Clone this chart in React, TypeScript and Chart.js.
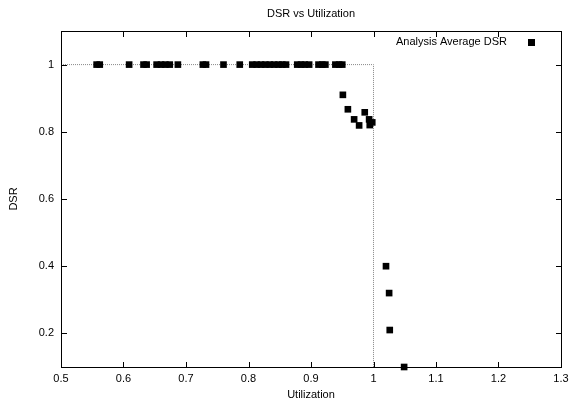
import React, { useEffect, useRef } from 'react';
import { Chart, registerables } from 'chart.js';

Chart.register(...registerables);

const chartTitle = 'DSR vs Utilization';
const xTitle = 'Utilization';
const yTitle = 'DSR';
const seriesName = 'Analysis Average DSR';

const xTicks = [0.5, 0.6, 0.7, 0.8, 0.9, 1.0, 1.1, 1.2, 1.3];
const xTickLabels = ['0.5', '0.6', '0.7', '0.8', '0.9', '1', '1.1', '1.2', '1.3'];
const yTicks = [0.2, 0.4, 0.6, 0.8, 1.0];
const yTickLabels = ['0.2', '0.4', '0.6', '0.8', '1'];

const utilization = [
  0.557, 0.562, 0.609, 0.632, 0.637, 0.653, 0.66, 0.667, 0.674, 0.687,
  0.727, 0.732, 0.76, 0.786, 0.806, 0.813, 0.82, 0.827, 0.834, 0.841,
  0.848, 0.854, 0.86, 0.878, 0.884, 0.89, 0.897, 0.912, 0.918, 0.923,
  0.939, 0.945, 0.95, 0.951, 0.959, 0.969, 0.977, 0.986, 0.993, 0.994,
  0.998, 1.02, 1.025, 1.026, 1.049,
];
const dsr = [
  1, 1, 1, 1, 1, 1, 1, 1, 1, 1,
  1, 1, 1, 1, 1, 1, 1, 1, 1, 1,
  1, 1, 1, 1, 1, 1, 1, 1, 1, 1,
  1, 1, 1, 0.91, 0.867, 0.837, 0.819, 0.858, 0.837, 0.82,
  0.828, 0.4, 0.32, 0.21, 0.1,
];

const idealX = [0.5, 1.0, 1.0];
const idealY = [1.0, 1.0, 0.1];

const FONT = '"Liberation Sans", Arial, Helvetica, sans-serif';

const gnuPlugin = {
  id: 'gnuFrame',
  afterDraw(chart: any) {
    const { ctx, chartArea: a, scales } = chart;
    ctx.save();
    ctx.globalAlpha = 1;
    ctx.globalCompositeOperation = 'source-over';
    ctx.fillStyle = '#000';
    const L = Math.round(a.left);
    const T = Math.round(a.top);
    const R = Math.round(a.right);
    const B = Math.round(a.bottom);
    // frame
    ctx.fillRect(L, T, R - L + 1, 1);
    ctx.fillRect(L, B, R - L + 1, 1);
    ctx.fillRect(L, T, 1, B - T + 1);
    ctx.fillRect(R, T, 1, B - T + 1);
    // inward ticks, mirrored on top and right
    xTicks.forEach((v) => {
      const px = Math.round(scales.x.getPixelForValue(v));
      ctx.fillRect(px, B - 5, 1, 5);
      ctx.fillRect(px, T + 1, 1, 5);
    });
    yTicks.forEach((v) => {
      const py = Math.round(scales.y.getPixelForValue(v));
      ctx.fillRect(L + 1, py, 5, 1);
      ctx.fillRect(R - 5, py, 5, 1);
    });

    ctx.font = `11px ${FONT}`;
    ctx.textBaseline = 'middle';
    ctx.textAlign = 'center';
    xTicks.forEach((v, i) => {
      ctx.fillText(xTickLabels[i], scales.x.getPixelForValue(v), 379);
    });
    ctx.textAlign = 'right';
    yTicks.forEach((v, i) => {
      ctx.fillText(yTickLabels[i], 54, scales.y.getPixelForValue(v));
    });

    const cx = (a.left + a.right) / 2;
    const cy = (a.top + a.bottom) / 2;
    ctx.textAlign = 'center';
    ctx.fillText(chartTitle, cx, 14);
    ctx.fillText(xTitle, cx, 395);
    ctx.save();
    ctx.translate(14, cy);
    ctx.rotate(-Math.PI / 2);
    ctx.fillText(yTitle, 0, 0);
    ctx.restore();
    // legend
    ctx.textAlign = 'right';
    ctx.fillText(seriesName, 507, 42);
    ctx.fillRect(528, 39, 7, 7);
    ctx.restore();
  },
};

export default function App() {
  const ref = useRef<HTMLCanvasElement | null>(null);

  useEffect(() => {
    if (!ref.current) return;
    Chart.defaults.font.family = FONT;
    Chart.defaults.font.size = 11;
    Chart.defaults.color = '#000';
    const chart = new Chart(ref.current, {
      type: 'scatter',
      data: {
        datasets: [
          {
            label: seriesName,
            data: utilization.map((x, i) => ({ x, y: dsr[i] })),
            pointStyle: 'rect',
            pointRadius: 4.7,
            pointBorderWidth: 0,
            backgroundColor: '#000',
            borderColor: '#000',
            showLine: false,
            clip: false,
            order: 0,
          },
          {
            label: 'ideal',
            data: idealX.map((x, i) => ({ x, y: idealY[i] })),
            showLine: true,
            pointRadius: 0,
            borderColor: '#888',
            borderWidth: 1,
            borderDash: [1, 1],
            fill: false,
            order: 1,
          } as any,
        ],
      },
      options: {
        animation: false,
        responsive: false,
        layout: { padding: { top: 31, right: 10, left: 0, bottom: 0 } },
        plugins: {
          legend: { display: false },
          title: { display: false },
          tooltip: { enabled: false },
        },
        scales: {
          x: {
            type: 'linear',
            min: 0.5,
            max: 1.3,
            grid: { display: false },
            border: { display: false },
            ticks: { display: false },
            afterFit: (s: any) => {
              s.height = 34;
            },
          },
          y: {
            type: 'linear',
            min: 0.1,
            max: 1.1,
            grid: { display: false },
            border: { display: false },
            ticks: { display: false },
            afterFit: (s: any) => {
              s.width = 61;
            },
          },
        },
      },
      plugins: [gnuPlugin],
    });
    return () => chart.destroy();
  }, []);

  return (
    <div style={{ position: 'absolute', left: 0, top: 0, width: 571, height: 401, background: '#fff' }}>
      <canvas ref={ref} width={571} height={401} style={{ display: 'block' }} />
    </div>
  );
}
